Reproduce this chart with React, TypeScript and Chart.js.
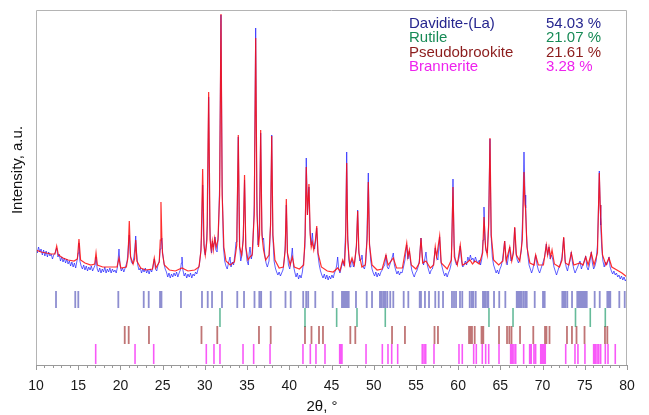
import React, { useEffect, useRef } from "react";
import { Chart, registerables } from "chart.js";

Chart.register(...registerables);

// ---- Data (2θ in degrees, intensity in a.u.) ----
const observedPattern: [number, number][] = [
  [10.0,117],[10.15,112],[10.3,118],[10.45,113],[10.6,116],[10.75,110],[10.9,115],[11.05,109],[11.2,114],[11.35,108],[11.5,113],[11.65,109],[11.8,111],[11.95,106],[12.1,110],[12.25,112],[12.45,117],[12.6,108],[12.75,111],[12.9,104],[13.05,108],[13.2,103],[13.35,107],[13.5,102],[13.65,106],[13.8,101],[13.95,104],[14.1,99],[14.25,103],[14.4,98],[14.55,102],[14.7,97],[14.85,104],[15.0,112],[15.09,122],[15.2,104],[15.35,99],[15.5,96],[15.65,100],[15.8,95],[15.95,99],[16.1,94],[16.25,98],[16.4,95],[16.55,99],[16.7,94],[16.85,97],[17.0,100],[17.11,108],[17.25,96],[17.4,93],[17.55,97],[17.7,92],[17.85,96],[18.0,93],[18.15,98],[18.3,92],[18.45,96],[18.6,93],[18.75,97],[18.9,92],[19.05,96],[19.2,93],[19.35,95],[19.5,92],[19.65,98],[19.83,116],[19.95,100],[20.1,94],[20.25,97],[20.4,93],[20.6,98],[20.8,104],[20.95,120],[21.05,130],[21.15,112],[21.3,103],[21.45,101],[21.6,108],[21.72,118],[21.81,129],[21.92,112],[22.05,100],[22.2,95],[22.35,97],[22.5,92],[22.65,96],[22.8,93],[22.95,97],[23.1,92],[23.25,95],[23.4,91],[23.55,96],[23.7,93],[23.85,98],[24.01,106],[24.15,96],[24.3,94],[24.45,100],[24.6,104],[24.72,116],[24.8,120],[24.9,127],[25.0,112],[25.15,102],[25.3,96],[25.45,93],[25.6,88],[25.75,92],[25.9,87],[26.05,91],[26.2,88],[26.35,92],[26.5,89],[26.65,93],[26.8,88],[26.95,92],[27.1,95],[27.22,102],[27.29,108],[27.4,95],[27.55,89],[27.7,92],[27.85,87],[28.0,91],[28.15,88],[28.3,92],[28.45,87],[28.6,91],[28.75,89],[28.9,93],[29.05,91],[29.2,96],[29.35,100],[29.5,112],[29.62,130],[29.74,180],[29.85,130],[29.95,113],[30.05,110],[30.15,118],[30.3,140],[30.45,268],[30.58,140],[30.7,118],[30.8,112],[30.9,124],[31.0,118],[31.1,122],[31.2,128],[31.3,115],[31.45,113],[31.6,130],[31.75,180],[31.91,350],[32.05,180],[32.2,118],[32.35,104],[32.5,99],[32.65,96],[32.8,102],[32.98,108],[33.1,98],[33.25,103],[33.4,100],[33.55,110],[33.69,123],[33.8,135],[33.96,228],[34.1,120],[34.25,104],[34.4,110],[34.55,130],[34.7,185],[34.85,118],[35.0,104],[35.15,100],[35.25,112],[35.35,118],[35.5,106],[35.65,112],[35.85,160],[36.02,337],[36.15,170],[36.3,120],[36.45,140],[36.61,232],[36.75,135],[36.85,125],[36.95,127],[37.1,110],[37.25,102],[37.4,98],[37.6,104],[37.78,140],[37.92,230],[38.05,130],[38.2,104],[38.35,97],[38.5,93],[38.65,90],[38.8,93],[38.95,89],[39.1,92],[39.25,95],[39.4,105],[39.52,120],[39.65,160],[39.78,112],[39.9,100],[40.05,96],[40.2,104],[40.36,117],[40.5,99],[40.65,93],[40.8,88],[40.95,92],[41.1,86],[41.25,90],[41.4,87],[41.55,93],[41.7,104],[41.85,118],[42.01,207],[42.15,150],[42.33,178],[42.45,135],[42.6,120],[42.73,132],[42.85,120],[43.0,116],[43.12,124],[43.25,137],[43.4,110],[43.55,100],[43.7,94],[43.85,90],[44.0,87],[44.15,91],[44.3,86],[44.45,90],[44.6,85],[44.75,89],[44.9,86],[45.05,90],[45.2,87],[45.35,92],[45.5,95],[45.62,100],[45.73,108],[45.85,96],[46.0,92],[46.15,97],[46.33,104],[46.5,99],[46.68,135],[46.8,213],[46.92,130],[47.05,105],[47.2,98],[47.3,102],[47.43,105],[47.6,98],[47.75,103],[47.95,120],[48.1,155],[48.22,115],[48.35,104],[48.5,106],[48.6,110],[48.75,98],[48.9,96],[49.05,102],[49.2,130],[49.36,192],[49.5,122],[49.65,104],[49.8,96],[49.95,92],[50.1,89],[50.25,93],[50.4,88],[50.55,92],[50.7,89],[50.85,93],[51.0,95],[51.15,98],[51.3,100],[51.45,110],[51.6,98],[51.75,96],[51.9,100],[52.05,104],[52.2,108],[52.32,112],[52.45,100],[52.6,95],[52.75,91],[52.9,94],[53.05,90],[53.2,93],[53.35,92],[53.5,97],[53.7,105],[53.91,120],[54.05,106],[54.22,114],[54.35,104],[54.5,95],[54.65,91],[54.8,88],[54.95,92],[55.1,94],[55.25,98],[55.4,104],[55.6,127],[55.75,108],[55.9,100],[56.05,106],[56.19,113],[56.35,100],[56.5,95],[56.65,91],[56.8,95],[56.95,96],[57.1,102],[57.29,117],[57.45,108],[57.6,105],[57.81,128],[57.95,104],[58.1,98],[58.25,93],[58.4,89],[58.55,92],[58.7,88],[58.85,92],[59.0,95],[59.15,100],[59.25,120],[59.39,186],[59.52,120],[59.65,104],[59.8,100],[59.95,103],[60.1,107],[60.25,119],[60.4,104],[60.55,98],[60.7,100],[60.85,104],[61.0,100],[61.15,108],[61.3,104],[61.45,110],[61.6,105],[61.75,107],[61.9,103],[62.05,108],[62.2,104],[62.35,102],[62.5,105],[62.65,100],[62.8,106],[62.95,125],[63.06,158],[63.18,125],[63.3,114],[63.45,112],[63.6,140],[63.77,226],[63.9,130],[64.05,108],[64.2,100],[64.35,96],[64.5,92],[64.65,95],[64.8,91],[64.95,96],[65.1,99],[65.25,105],[65.35,112],[65.51,124],[65.65,106],[65.8,100],[65.95,108],[66.11,118],[66.25,104],[66.4,106],[66.55,115],[66.7,137],[66.85,112],[67.0,105],[67.15,102],[67.3,106],[67.5,115],[67.65,150],[67.8,213],[67.92,170],[68.0,157],[68.1,130],[68.25,110],[68.4,100],[68.55,96],[68.7,92],[68.85,96],[69.0,102],[69.18,110],[69.35,100],[69.5,95],[69.65,92],[69.8,96],[69.95,100],[70.1,104],[70.25,108],[70.44,121],[70.6,110],[70.76,118],[70.9,106],[71.05,110],[71.2,106],[71.35,98],[71.5,94],[71.65,90],[71.8,94],[71.95,98],[72.1,101],[72.3,108],[72.5,127],[72.65,105],[72.8,98],[72.95,94],[73.1,100],[73.25,104],[73.4,113],[73.55,102],[73.7,96],[73.85,92],[74.0,95],[74.15,98],[74.3,101],[74.43,104],[74.6,96],[74.75,100],[74.9,103],[75.11,109],[75.25,98],[75.4,95],[75.55,100],[75.77,113],[75.9,102],[76.05,96],[76.2,99],[76.35,104],[76.5,120],[76.6,150],[76.72,194],[76.82,160],[76.89,140],[77.0,118],[77.15,104],[77.3,98],[77.45,103],[77.6,100],[77.75,104],[77.87,108],[78.0,98],[78.15,94],[78.3,91],[78.45,94],[78.6,90],[78.75,92],[78.9,88],[79.05,90],[79.2,86],[79.35,89],[79.5,85],[79.65,88],[79.8,84],[80.0,87]
];

const calculatedPattern: [number, number][] = [
  [10.0,115],[10.6,113],[11.2,112],[11.8,111],[12.25,111],[12.45,119],[12.65,110],[13.2,107],[13.8,105],[14.5,104],[14.9,106],[15.09,126],[15.28,105],[15.8,102],[16.5,100],[16.95,101],[17.11,112],[17.27,100],[17.9,98],[18.6,98],[19.6,98],[19.83,107],[20.05,97],[20.7,98],[20.9,108],[21.05,144],[21.2,108],[21.5,101],[21.68,106],[21.81,125],[21.95,104],[22.4,97],[23.0,95],[23.8,96],[24.01,107],[24.2,97],[24.6,103],[24.72,125],[24.8,163],[24.9,128],[24.98,112],[25.2,100],[25.8,95],[26.5,94],[27.29,97],[28.0,94],[28.8,95],[29.3,98],[29.55,115],[29.74,196],[29.9,120],[30.05,110],[30.25,125],[30.45,273],[30.62,125],[30.75,115],[30.88,124],[31.0,115],[31.17,127],[31.35,118],[31.55,125],[31.75,170],[31.91,351],[32.05,170],[32.25,118],[32.5,104],[33.0,100],[33.5,103],[33.78,120],[33.96,230],[34.12,118],[34.35,110],[34.55,125],[34.7,190],[34.85,118],[35.1,105],[35.35,108],[35.6,110],[35.85,150],[36.02,327],[36.18,150],[36.35,118],[36.48,130],[36.61,235],[36.76,130],[36.95,115],[37.2,105],[37.6,110],[37.78,140],[37.92,229],[38.06,130],[38.3,105],[38.8,97],[39.3,98],[39.52,115],[39.65,166],[39.78,112],[40.1,100],[40.36,108],[40.6,98],[41.2,96],[41.7,100],[41.88,130],[42.01,198],[42.15,150],[42.33,181],[42.48,130],[42.6,118],[42.73,123],[42.9,115],[43.1,125],[43.25,139],[43.4,112],[43.8,98],[44.5,94],[45.2,93],[45.73,97],[46.0,94],[46.33,105],[46.55,100],[46.68,125],[46.8,202],[46.92,125],[47.15,100],[47.43,107],[47.7,100],[47.95,118],[48.1,154],[48.25,112],[48.6,98],[49.0,100],[49.22,125],[49.36,183],[49.5,120],[49.8,100],[50.4,95],[51.0,96],[51.45,110],[51.7,100],[52.32,107],[52.7,97],[53.4,97],[53.91,122],[54.05,108],[54.22,115],[54.45,100],[55.0,96],[55.4,102],[55.6,127],[55.8,102],[56.19,104],[56.7,97],[57.1,100],[57.29,118],[57.45,108],[57.81,129],[58.0,102],[58.7,96],[59.2,105],[59.39,178],[59.55,108],[59.9,100],[60.25,120],[60.5,100],[61.0,102],[61.4,105],[61.7,101],[62.0,104],[62.5,101],[62.9,112],[63.06,148],[63.25,118],[63.45,110],[63.62,140],[63.77,227],[63.92,130],[64.2,105],[64.8,100],[65.3,104],[65.51,124],[65.7,104],[66.11,118],[66.35,104],[66.55,112],[66.7,138],[66.9,110],[67.3,104],[67.6,125],[67.8,193],[67.92,160],[67.98,157],[68.15,118],[68.5,102],[69.0,100],[69.18,110],[69.5,100],[70.1,100],[70.44,120],[70.6,110],[70.76,118],[70.95,108],[71.12,115],[71.4,101],[72.0,98],[72.3,105],[72.5,128],[72.7,102],[73.1,100],[73.4,112],[73.7,100],[74.43,102],[74.8,100],[75.11,108],[75.4,100],[75.77,112],[76.1,100],[76.5,112],[76.72,192],[76.82,160],[76.89,148],[77.1,110],[77.5,100],[77.87,107],[78.2,98],[78.8,95],[79.4,92],[80.0,88]
];

// Bragg reflection positions (2θ, °) for each phase
const daviditeTicks = [12.37,14.65,15.01,19.75,22.76,23.35,24.69,24.86,27.17,29.66,30.34,30.85,32.03,33.84,34.64,35.88,36.45,36.67,37.8,39.55,40.17,41.65,42.0,42.24,43.08,45.14,46.24,46.44,46.63,46.84,47.04,47.9,49.17,49.8,50.74,50.95,51.18,51.37,51.61,51.96,52.32,53.55,54.1,55.45,55.6,56.07,56.55,57.29,57.7,58.21,59.27,59.51,59.75,60.22,60.49,61.37,61.61,61.8,62.08,62.94,63.06,63.22,63.45,63.57,64.25,64.87,65.59,66.94,67.09,67.29,67.48,67.72,67.95,68.12,69.07,70.05,70.25,72.34,72.54,72.69,72.93,73.49,74.11,74.28,74.47,74.67,74.82,75.02,75.23,76.17,76.77,77.67,77.87,78.02,79.09,79.73];
const rutileTicks = [31.79,41.86,45.61,48.02,51.37,63.65,66.5,73.9,75.65,77.43];
const pseudobrookiteTicks = [20.51,20.98,23.38,29.6,31.47,36.41,37.8,41.86,42.63,43.52,43.99,47.23,47.82,52.17,53.7,57.2,57.61,61.29,61.46,61.64,61.96,62.77,62.98,64.84,65.79,66.06,66.32,67.33,68.9,70.29,70.46,70.82,72.89,73.48,74.02,74.97,77.39,77.67];
const branneriteTicks = [17.07,21.73,23.94,30.17,31.08,31.79,34.52,35.78,37.72,41.62,42.49,43.16,44.23,45.97,46.09,46.24,49.09,51.02,51.69,52.13,52.84,55.75,55.96,56.16,57.14,60.1,60.49,61.84,62.15,62.86,63.26,63.62,64.84,66.22,66.41,66.61,66.82,67.76,68.47,68.66,68.98,69.18,69.78,69.97,70.13,70.32,72.74,73.84,74.19,75.02,76.05,76.24,76.45,76.65,76.88,77.43,77.75,78.61];

const phaseNames = ["Davidite-(La)", "Rutile", "Pseudobrookite", "Brannerite"];
const phasePercents = ["54.03 %", "21.07 %", "21.61 %", "3.28 %"];
const phaseColors = ["#26268f", "#178a56", "#8c1c1c", "#ee22ee"];
const xTickLabels = [10, 15, 20, 25, 30, 35, 40, 45, 50, 55, 60, 65, 70, 75, 80];

const FONT = "'Liberation Sans', Arial, Helvetica, sans-serif";

function tickSegments(pos: number[], top: number, bottom: number) {
  const out: { x: number; y: number | null }[] = [];
  pos.forEach((p) => {
    out.push({ x: p, y: top });
    out.push({ x: p, y: bottom });
    out.push({ x: p, y: null });
  });
  return out;
}

const decorPlugin = {
  id: "decor",
  afterDraw(chart: any) {
    const { ctx, chartArea } = chart;
    const xs = chart.scales.x;
    const { left, right, top, bottom } = chartArea;
    ctx.save();
    // frame
    ctx.strokeStyle = "#b4b4b4";
    ctx.lineWidth = 1;
    ctx.beginPath();
    ctx.moveTo(left + 0.5, bottom);
    ctx.lineTo(left + 0.5, top + 0.5);
    ctx.lineTo(right - 0.5, top + 0.5);
    ctx.lineTo(right - 0.5, bottom);
    ctx.stroke();
    // x axis line and ticks
    ctx.strokeStyle = "#999999";
    ctx.beginPath();
    ctx.moveTo(left, bottom + 0.5);
    ctx.lineTo(right, bottom + 0.5);
    for (let v = xTickLabels[0]; v <= xTickLabels[xTickLabels.length - 1]; v += 1) {
      const px = Math.round(xs.getPixelForValue(v)) + 0.5;
      const len = v % 5 === 0 ? 5 : 3;
      ctx.moveTo(px, bottom);
      ctx.lineTo(px, bottom + len);
    }
    ctx.stroke();
    // axis titles
    ctx.fillStyle = "#111111";
    ctx.font = `15px ${FONT}`;
    ctx.textAlign = "center";
    ctx.textBaseline = "middle";
    ctx.fillText("2θ, °", 322, 407);
    ctx.save();
    ctx.translate(18, 170);
    ctx.rotate(-Math.PI / 2);
    ctx.fillText("Intensity, a.u.", 0, 0);
    ctx.restore();
    // legend
    ctx.textAlign = "left";
    ctx.font = `15px ${FONT}`;
    phaseNames.forEach((n, i) => {
      const y = 24 + i * 14.3;
      ctx.fillStyle = phaseColors[i];
      ctx.fillText(n, 409, y);
      ctx.fillText(phasePercents[i], 546, y);
    });
    ctx.restore();
  },
};

export default function App() {
  const ref = useRef<HTMLCanvasElement>(null);
  useEffect(() => {
    if (!ref.current) return;
    Chart.defaults.font.family = FONT;
    const chart = new Chart(ref.current, {
      type: "scatter",
      data: {
        datasets: [
          {
            label: "Observed",
            data: observedPattern.map(([x, y]) => ({ x, y })),
            showLine: true,
            borderColor: "rgba(30,30,255,0.7)",
            borderWidth: 1,
            pointRadius: 0,
            order: 2,
          },
          {
            label: "Calculated",
            data: calculatedPattern.map(([x, y]) => ({ x, y })),
            showLine: true,
            borderColor: "rgba(255,10,10,0.85)",
            borderWidth: 1.2,
            pointRadius: 0,
            order: 1,
          },
          {
            label: phaseNames[0],
            data: tickSegments(daviditeTicks, 74, 57),
            showLine: true,
            spanGaps: false,
            borderColor: "rgba(50,50,170,0.55)",
            borderWidth: 1.8,
            pointRadius: 0,
          },
          {
            label: phaseNames[1],
            data: tickSegments(rutileTicks, 57, 38),
            showLine: true,
            spanGaps: false,
            borderColor: "rgba(20,150,100,0.65)",
            borderWidth: 1.6,
            pointRadius: 0,
          },
          {
            label: phaseNames[2],
            data: tickSegments(pseudobrookiteTicks, 39, 21),
            showLine: true,
            spanGaps: false,
            borderColor: "rgba(150,25,25,0.6)",
            borderWidth: 1.8,
            pointRadius: 0,
          },
          {
            label: phaseNames[3],
            data: tickSegments(branneriteTicks, 21, 1),
            showLine: true,
            spanGaps: false,
            borderColor: "rgba(245,0,245,0.65)",
            borderWidth: 1.6,
            pointRadius: 0,
          },
        ] as any,
      },
      options: {
        animation: false,
        responsive: false,
        maintainAspectRatio: false,
        events: [],
        layout: { padding: { left: 36, right: 22, top: 10, bottom: 0 } },
        plugins: { legend: { display: false }, tooltip: { enabled: false } },
        scales: {
          x: {
            type: "linear",
            min: 10,
            max: 80,
            grid: { display: false },
            border: { display: false },
            afterFit: (s: any) => { s.height = 50; },
            afterBuildTicks: (s: any) => { s.ticks = xTickLabels.map((v) => ({ value: v })); },
            ticks: { color: "#1a1a1a", font: { size: 14, family: FONT }, padding: 5, maxRotation: 0, autoSkip: false },
          },
          y: { display: false, min: 0, max: 355 },
        },
      },
      plugins: [decorPlugin],
    });
    return () => chart.destroy();
  }, []);
  return (
    <div style={{ position: "fixed", left: 0, top: 0, width: 649, height: 415, background: "#fff" }}>
      <canvas ref={ref} width={649} height={415} style={{ display: "block" }} />
    </div>
  );
}
